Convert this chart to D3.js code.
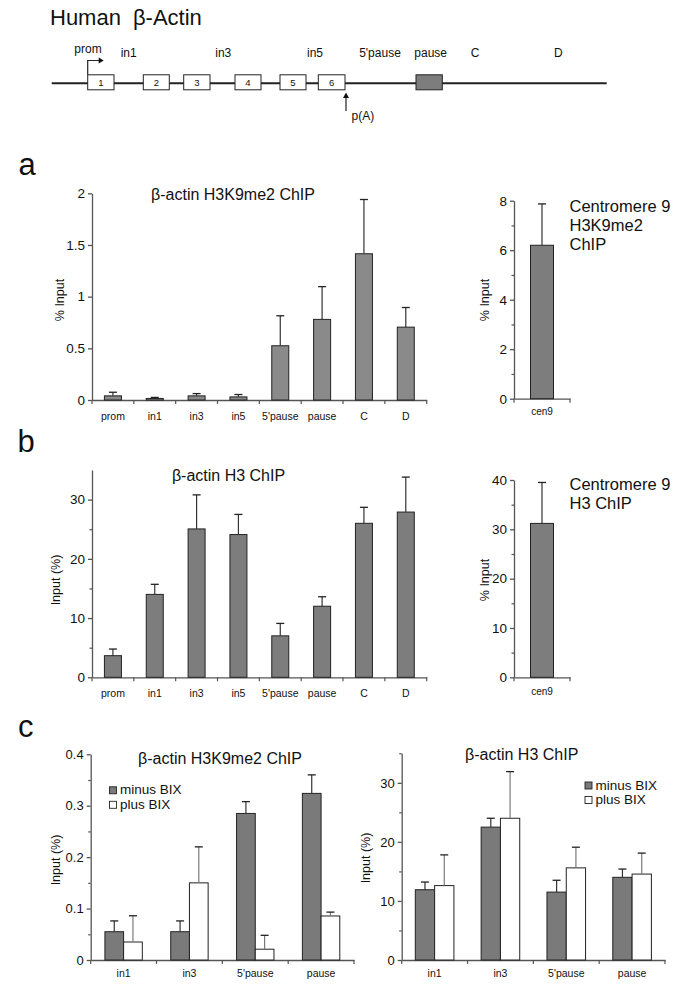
<!DOCTYPE html>
<html><head><meta charset="utf-8">
<script src="https://cdn.jsdelivr.net/npm/d3@7"></script>
<style>
body{margin:0;background:#fff}
svg{display:block}
text{font-family:"Liberation Sans",Arial,sans-serif;fill:#111}
</style></head>
<body><svg id="fig" width="681" height="987"></svg>
<script>
// ---------- data ----------
const regions = ["prom","in1","in3","in5","5'pause","pause","C","D"];
const h3k9me2Values = [0.04,0.015,0.04,0.03,0.525,0.78,1.415,0.705];
const h3k9me2Errors = [0.035,0.01,0.022,0.023,0.29,0.317,0.525,0.19];
const cen9Cats = ["cen9"];
const cen9H3K9Values = [6.2];
const cen9H3K9Errors = [1.67];
const h3Values = [3.65,14.0,25.05,24.1,7.0,12.0,26.0,27.9];
const h3Errors = [1.12,1.7,5.75,3.4,2.1,1.6,2.7,5.9];
const cen9H3Values = [31.2];
const cen9H3Errors = [8.3];
const bixRegions = ["in1","in3","5'pause","pause"];
const bixSeries = ["minus BIX","plus BIX"];
const k9MinusValues = [0.055,0.055,0.285,0.324];
const k9MinusErrors = [0.021,0.021,0.023,0.036];
const k9PlusValues  = [0.035,0.15,0.021,0.0856];
const k9PlusErrors  = [0.051,0.07,0.027,0.0075];
const h3MinusValues = [11.9,22.5,11.5,14.0];
const h3MinusErrors = [1.3,1.5,2.0,1.4];
const h3PlusValues  = [12.6,24.0,15.6,14.55];
const h3PlusErrors  = [5.2,7.9,3.5,3.55];
const ticksA = [0,0.5,1,1.5,2];
const ticksCen9A = [0,2,4,6,8];
const minorCen9A = [1,3,5,7];
const ticksB = [0,10,20,30];
const minorB = [5,15,25];
const ticksCen9B = [0,10,20,30,40];
const minorCen9B = [5,15,25,35];
const ticksCL = [0,0.1,0.2,0.3,0.4];
const minorCL = [0.05,0.15,0.25,0.35];
const ticksCR = [0,10,20,30];
const minorCR = [5,15,25,35];

// gene schematic (diagram units)
const exons = ["1","2","3","4","5","6"];
const exonSpans = [[36,62.3],[91.6,117.6],[132,158.3],[183.3,209.3],[228.3,254.3],[266.6,293.3]];
const pauseSpan = [364.3,390.6];
const geneLabelPos = [36.3,77,171.6,263.3,328.3,379,423.3,506.6];

const FONT = '"Liberation Sans",Arial,sans-serif';
const svg = d3.select("#fig");
const AX = "#555";

// ---------- gene diagram ----------
(function(){
  const gx = d3.scaleLinear().domain([0,555]).range([51.7,606.7]);
  const g = svg.append("g");
  const lineY = 83.3, boxTop = 74.8, boxH = 15;
  g.append("text").attr("x",50).attr("y",25).attr("font-size",22)
    .text("Human").append("tspan").attr("dx",12).text("β-Actin");
  g.append("line").attr("x1",gx(0)).attr("x2",gx(555)).attr("y1",lineY).attr("y2",lineY)
    .attr("stroke","#222").attr("stroke-width",2);
  g.selectAll("rect.ex").data(exonSpans).join("rect").attr("class","ex")
    .attr("x",d=>gx(d[0])).attr("width",d=>gx(d[1])-gx(d[0]))
    .attr("y",boxTop).attr("height",boxH).attr("fill","#fff").attr("stroke","#222").attr("stroke-width",1);
  g.selectAll("text.exn").data(exons).join("text").attr("class","exn")
    .attr("x",(d,i)=>(gx(exonSpans[i][0])+gx(exonSpans[i][1]))/2).attr("y",boxTop+boxH/2+3.4)
    .attr("text-anchor","middle").attr("font-size",9.5).text(d=>d);
  g.append("rect").attr("x",gx(pauseSpan[0])).attr("width",gx(pauseSpan[1])-gx(pauseSpan[0]))
    .attr("y",boxTop).attr("height",boxH).attr("fill","#7d7d7d").attr("stroke","#222").attr("stroke-width",1);
  g.selectAll("text.rl").data(regions).join("text").attr("class","rl")
    .attr("x",(d,i)=>gx(geneLabelPos[i])).attr("y",(d,i)=>i===0?52.5:56.5)
    .attr("text-anchor","middle").attr("font-size",12).text(d=>d);
  // promoter arrow
  const px = gx(exonSpans[0][0]);
  g.append("path").attr("d",`M${px},${boxTop} V60.5 H${px+12}`).attr("fill","none").attr("stroke","#222").attr("stroke-width",1.2);
  g.append("path").attr("d",`M${px+11},57.5 L${px+16},60.5 L${px+11},63.5 Z`).attr("fill","#111");
  // p(A) arrow
  const ax = gx(exonSpans[5][1])+1;
  g.append("line").attr("x1",ax).attr("x2",ax).attr("y1",111).attr("y2",97).attr("stroke","#222").attr("stroke-width",1.2);
  g.append("path").attr("d",`M${ax-3},98 L${ax},92.5 L${ax+3},98 Z`).attr("fill","#111");
  g.append("text").attr("x",ax+5.5).attr("y",119.5).attr("font-size",12).text("p(A)");
})();

// ---------- bar chart helper ----------
function barChart(o){
  const g = svg.append("g");
  const x = d3.scaleBand().domain(o.cats).range([o.x0,o.x1]).padding(0);
  const y = d3.scaleLinear().domain([0,o.max]).range([o.y0,o.yTop]);
  if(o.minor){
    g.append("g").attr("transform",`translate(${o.x0},0)`)
      .call(d3.axisLeft(y).tickValues(o.minor).tickSize(2.5).tickFormat(""))
      .call(s=>{s.select(".domain").remove(); s.selectAll("line").attr("stroke",AX).attr("stroke-width",1.2);});
  }
  g.append("g").attr("transform",`translate(${o.x0},0)`)
    .call(d3.axisLeft(y).tickValues(o.major).tickSize(4).tickSizeOuter(0).tickPadding(o.yPad||3).tickFormat(d3.format("")))
    .call(s=>{
      s.attr("font-family",FONT).attr("font-size",o.tickFs||13.5);
      s.selectAll("path,line").attr("stroke",AX).attr("stroke-width",1.3);
      s.selectAll("text").attr("fill","#111");
    });
  g.append("g").attr("transform",`translate(0,${o.y0})`)
    .call(d3.axisBottom(x).tickSize(0).tickSizeOuter(0).tickPadding(o.xPad))
    .call(s=>{
      s.attr("font-family",FONT).attr("font-size",o.xFs||10.5);
      s.select(".domain").attr("stroke",AX).attr("stroke-width",1.3);
      s.selectAll("text").attr("fill","#111");
    });
  g.selectAll("line.bt").data(d3.range(o.cats.length+1)).join("line").attr("class","bt")
    .attr("x1",i=>o.x0+i*x.step()).attr("x2",i=>o.x0+i*x.step())
    .attr("y1",o.y0).attr("y2",o.y0+4).attr("stroke",AX).attr("stroke-width",1.2);
  const n = o.series.length;
  const pairW = o.barW*n;
  const xs = d3.scaleBand().domain(d3.range(n)).range([0,pairW]);
  o.series.forEach((s,j)=>{
    const bx = c => x(c)+(x.bandwidth()-pairW)/2+xs(j);
    g.selectAll(null).data(o.cats).join("rect")
      .attr("x",c=>bx(c)).attr("width",o.barW)
      .attr("y",(c,i)=>y(s.values[i])).attr("height",(c,i)=>o.y0-y(s.values[i]))
      .attr("fill",s.fill).attr("stroke","#222").attr("stroke-width",1);
    g.selectAll(null).data(o.cats).join("line")
      .attr("x1",c=>bx(c)+o.barW/2).attr("x2",c=>bx(c)+o.barW/2)
      .attr("y1",(c,i)=>y(s.values[i])).attr("y2",(c,i)=>y(s.values[i]+s.errors[i]))
      .attr("stroke",s.errColor).attr("stroke-width",1.2);
    g.selectAll(null).data(o.cats).join("line")
      .attr("x1",c=>bx(c)+o.barW/2-4).attr("x2",c=>bx(c)+o.barW/2+4)
      .attr("y1",(c,i)=>y(s.values[i]+s.errors[i])).attr("y2",(c,i)=>y(s.values[i]+s.errors[i]))
      .attr("stroke","#222").attr("stroke-width",1.3);
  });
  g.append("text").attr("transform",`translate(${o.ylx},${o.yly}) rotate(-90)`)
    .attr("text-anchor","middle").attr("font-size",12.5).text(o.yLabel);
  if(o.title){
    g.append("text").attr("x",o.title.x).attr("y",o.title.y).attr("text-anchor","middle")
      .attr("font-size",16).text(o.title.t);
  }
  return g;
}

// ---------- panel a ----------
svg.append("text").attr("x",18.5).attr("y",175).attr("font-size",31).text("a");
barChart({cats:regions,x0:92,x1:426.7,y0:400,yTop:193.3,max:2,major:ticksA,barW:17,xPad:12.5,
  series:[{values:h3k9me2Values,errors:h3k9me2Errors,fill:"#8a8a8a",errColor:"#333"}],
  yLabel:"% Input",ylx:64,yly:300,title:{t:"β-actin H3K9me2 ChIP",x:233,y:200}});
barChart({cats:cen9Cats,x0:514,x1:570,y0:398.7,yTop:200.7,max:8,major:ticksCen9A,minor:minorCen9A,barW:23,xPad:9.2,xFs:10,
  series:[{values:cen9H3K9Values,errors:cen9H3K9Errors,fill:"#7d7d7d",errColor:"#333"}],
  yLabel:"% Input",ylx:489,yly:300});
const ca = svg.append("text").attr("x",569.5).attr("y",211.5).attr("font-size",16.5);
["Centromere 9","H3K9me2","ChIP"].forEach((t,i)=>ca.append("tspan").attr("x",569.5).attr("dy",i?19.3:0).text(t));

// ---------- panel b ----------
svg.append("text").attr("x",17.5).attr("y",451.5).attr("font-size",31).text("b");
barChart({cats:regions,x0:92,x1:426.7,y0:677.3,yTop:470,max:35,major:ticksB,minor:minorB,barW:17,xPad:11.9,
  series:[{values:h3Values,errors:h3Errors,fill:"#7d7d7d",errColor:"#333"}],
  yLabel:"Input (%)",ylx:59.5,yly:580,title:{t:"β-actin H3 ChIP",x:228.5,y:481}});
barChart({cats:cen9Cats,x0:514,x1:570,y0:677.3,yTop:480,max:40,major:ticksCen9B,minor:minorCen9B,barW:23,xPad:10.5,xFs:10,
  series:[{values:cen9H3Values,errors:cen9H3Errors,fill:"#7d7d7d",errColor:"#333"}],
  yLabel:"% Input",ylx:488.5,yly:580});
const cb = svg.append("text").attr("x",569.5).attr("y",490).attr("font-size",16.5);
["Centromere 9","H3 ChIP"].forEach((t,i)=>cb.append("tspan").attr("x",569.5).attr("dy",i?19.3:0).text(t));

// ---------- panel c ----------
svg.append("text").attr("x",18).attr("y",736.7).attr("font-size",31).text("c");
barChart({cats:bixRegions,x0:90.7,x1:354,y0:960,yTop:754.3,max:0.4,major:ticksCL,minor:minorCL,barW:18.7,xPad:9.8,tickFs:13,
  series:[{values:k9MinusValues,errors:k9MinusErrors,fill:"#7a7a7a",errColor:"#333"},
          {values:k9PlusValues,errors:k9PlusErrors,fill:"#fff",errColor:"#7a7a7a"}],
  yLabel:"Input (%)",ylx:59.5,yly:860,title:{t:"β-actin H3K9me2 ChIP",x:220,y:763.5}});
barChart({cats:bixRegions,x0:401.7,x1:665,y0:960,yTop:753.3,max:35,major:ticksCR,minor:minorCR,barW:19.3,xPad:9.8,tickFs:13,
  series:[{values:h3MinusValues,errors:h3MinusErrors,fill:"#7a7a7a",errColor:"#333"},
          {values:h3PlusValues,errors:h3PlusErrors,fill:"#fff",errColor:"#7a7a7a"}],
  yLabel:"Input (%)",ylx:369.5,yly:858,title:{t:"β-actin H3 ChIP",x:521.7,y:760}});

// legends
function legend(x,y){
  const fills = ["#7a7a7a","#fff"];
  const g = svg.append("g");
  bixSeries.forEach((s,i)=>{
    g.append("rect").attr("x",x).attr("y",y+i*14.5-7.5).attr("width",7).attr("height",7)
      .attr("fill",fills[i]).attr("stroke","#222").attr("stroke-width",0.9);
    g.append("text").attr("x",x+10.5).attr("y",y+i*14.5).attr("font-size",13.5).text(s);
  });
}
legend(109.5,794.3);
legend(585,789.5);
</script></body></html>
